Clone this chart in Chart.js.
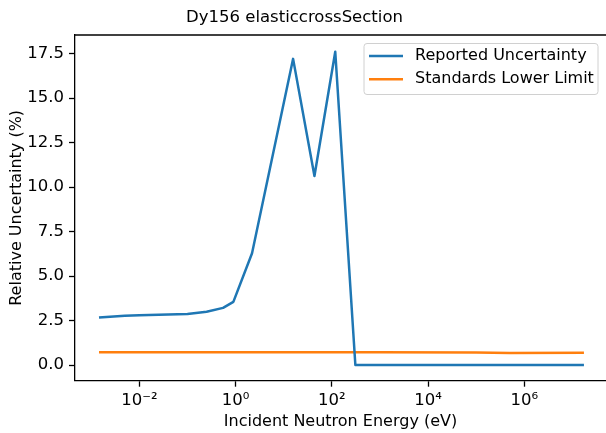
<!DOCTYPE html>
<html>
<head>
<meta charset="utf-8">
<script src="https://cdn.jsdelivr.net/npm/chart.js@4/dist/chart.umd.min.js"></script>
<style>
  html, body { margin: 0; padding: 0; background: #fff; overflow: hidden; }
  #wrap { width: 606px; height: 433px; }
</style>
</head>
<body>
<div id="wrap"><canvas id="chart" width="606" height="433"></canvas></div>
<script>
// energies (eV) and values
const reportedEnergy = [1.45e-3, 5e-3, 1e-2, 0.1, 0.25, 0.55, 0.9, 2.2, 15.7, 43.6, 118, 309, 1.74e7];
const reportedValues = [2.67, 2.77, 2.80, 2.87, 2.99, 3.21, 3.55, 6.28, 17.2, 10.62, 17.6, 0.0, 0.0];

const limitEnergy = [1.45e-3, 1e3, 1e5, 5e5, 1.74e7];
const limitValues = [0.72, 0.72, 0.70, 0.68, 0.69];

const xTicks = [1e-2, 1e0, 1e2, 1e4, 1e6];
const xTickLabels = ["10\u207B\u00B2", "10\u2070", "10\u00B2", "10\u2074", "10\u2076"];
const yTicks = [0, 2.5, 5, 7.5, 10, 12.5, 15, 17.5];

const FONT = "'DejaVu Sans', sans-serif";
Chart.defaults.font.family = FONT;
Chart.defaults.font.size = 16;
Chart.defaults.color = "#000";

const toPoints = (xs, ys) => xs.map((x, i) => ({ x: x, y: ys[i] }));

// top spine + title + boxed legend, drawn like matplotlib
const frameExtras = {
  id: "frameExtras",
  afterDraw(chart) {
    const { ctx, chartArea } = chart;
    ctx.save();
    ctx.strokeStyle = "#000";
    ctx.lineWidth = 1.3;
    ctx.beginPath();
    ctx.moveTo(chartArea.left, chartArea.top);
    ctx.lineTo(chartArea.right, chartArea.top);
    ctx.stroke();

    ctx.fillStyle = "#000";
    ctx.font = "16.5px " + FONT;
    ctx.textAlign = "center";
    ctx.textBaseline = "middle";
    ctx.fillText("Dy156 elasticcrossSection", 294.5, 18);

    // legend
    const bx = 364, by = 43.5, bw = 234, bh = 51, r = 3;
    ctx.beginPath();
    ctx.moveTo(bx + r, by);
    ctx.arcTo(bx + bw, by, bx + bw, by + bh, r);
    ctx.arcTo(bx + bw, by + bh, bx, by + bh, r);
    ctx.arcTo(bx, by + bh, bx, by, r);
    ctx.arcTo(bx, by, bx + bw, by, r);
    ctx.closePath();
    ctx.fillStyle = "rgba(255,255,255,0.8)";
    ctx.fill();
    ctx.strokeStyle = "#d0d0d0";
    ctx.lineWidth = 1;
    ctx.stroke();

    ctx.font = "16px " + FONT;
    ctx.textAlign = "left";
    chart.data.datasets.forEach((ds, i) => {
      const y = 56 + i * 23.3;
      ctx.strokeStyle = ds.borderColor;
      ctx.lineWidth = ds.borderWidth;
      ctx.beginPath();
      ctx.moveTo(369, y);
      ctx.lineTo(403, y);
      ctx.stroke();
      ctx.fillStyle = "#000";
      ctx.fillText(ds.label, 415, y);
    });
    ctx.restore();
  }
};

new Chart(document.getElementById("chart"), {
  type: "line",
  data: {
    datasets: [
      {
        label: "Reported Uncertainty",
        data: toPoints(reportedEnergy, reportedValues),
        borderColor: "#1f77b4",
        borderWidth: 2.5,
        borderJoinStyle: "round",
        pointRadius: 0,
        tension: 0
      },
      {
        label: "Standards Lower Limit",
        data: toPoints(limitEnergy, limitValues),
        borderColor: "#ff7f0e",
        borderWidth: 2.5,
        borderJoinStyle: "round",
        pointRadius: 0,
        tension: 0
      }
    ]
  },
  options: {
    responsive: false,
    animation: false,
    events: [],
    layout: { padding: { top: 35, left: 0, right: 0, bottom: 0 } },
    plugins: {
      legend: { display: false },
      title: { display: false },
      tooltip: { enabled: false }
    },
    scales: {
      x: {
        type: "logarithmic",
        min: Math.pow(10, -3.337),
        max: Math.pow(10, 7.699),
        afterBuildTicks: (s) => { s.ticks = xTicks.map((v) => ({ value: v })); },
        afterFit: (s) => { s.height = 52.3; },
        ticks: {
          autoSkip: false,
          maxRotation: 0,
          padding: 4,
          font: { size: 16.5 },
          callback: (v, i) => xTickLabels[i]
        },
        grid: { display: true, drawOnChartArea: false, tickLength: 6, tickColor: "#000", tickWidth: 1.3 },
        border: { color: "#000", width: 1.3 },
        title: { display: true, text: "Incident Neutron Energy (eV)", padding: { top: 0, bottom: 2 } }
      },
      y: {
        min: -0.88,
        max: 18.54,
        afterBuildTicks: (s) => { s.ticks = yTicks.map((v) => ({ value: v })); },
        afterFit: (s) => { s.width = 75; },
        ticks: {
          padding: 5,
          font: { size: 16.5 },
          callback: (v) => v.toFixed(1)
        },
        grid: { display: true, drawOnChartArea: false, tickLength: 6, tickColor: "#000", tickWidth: 1.3 },
        border: { color: "#000", width: 1.3 },
        title: { display: true, text: "Relative Uncertainty (%)", padding: { top: 7, bottom: 0 } }
      }
    }
  },
  plugins: [frameExtras]
});
</script>
</body>
</html>
